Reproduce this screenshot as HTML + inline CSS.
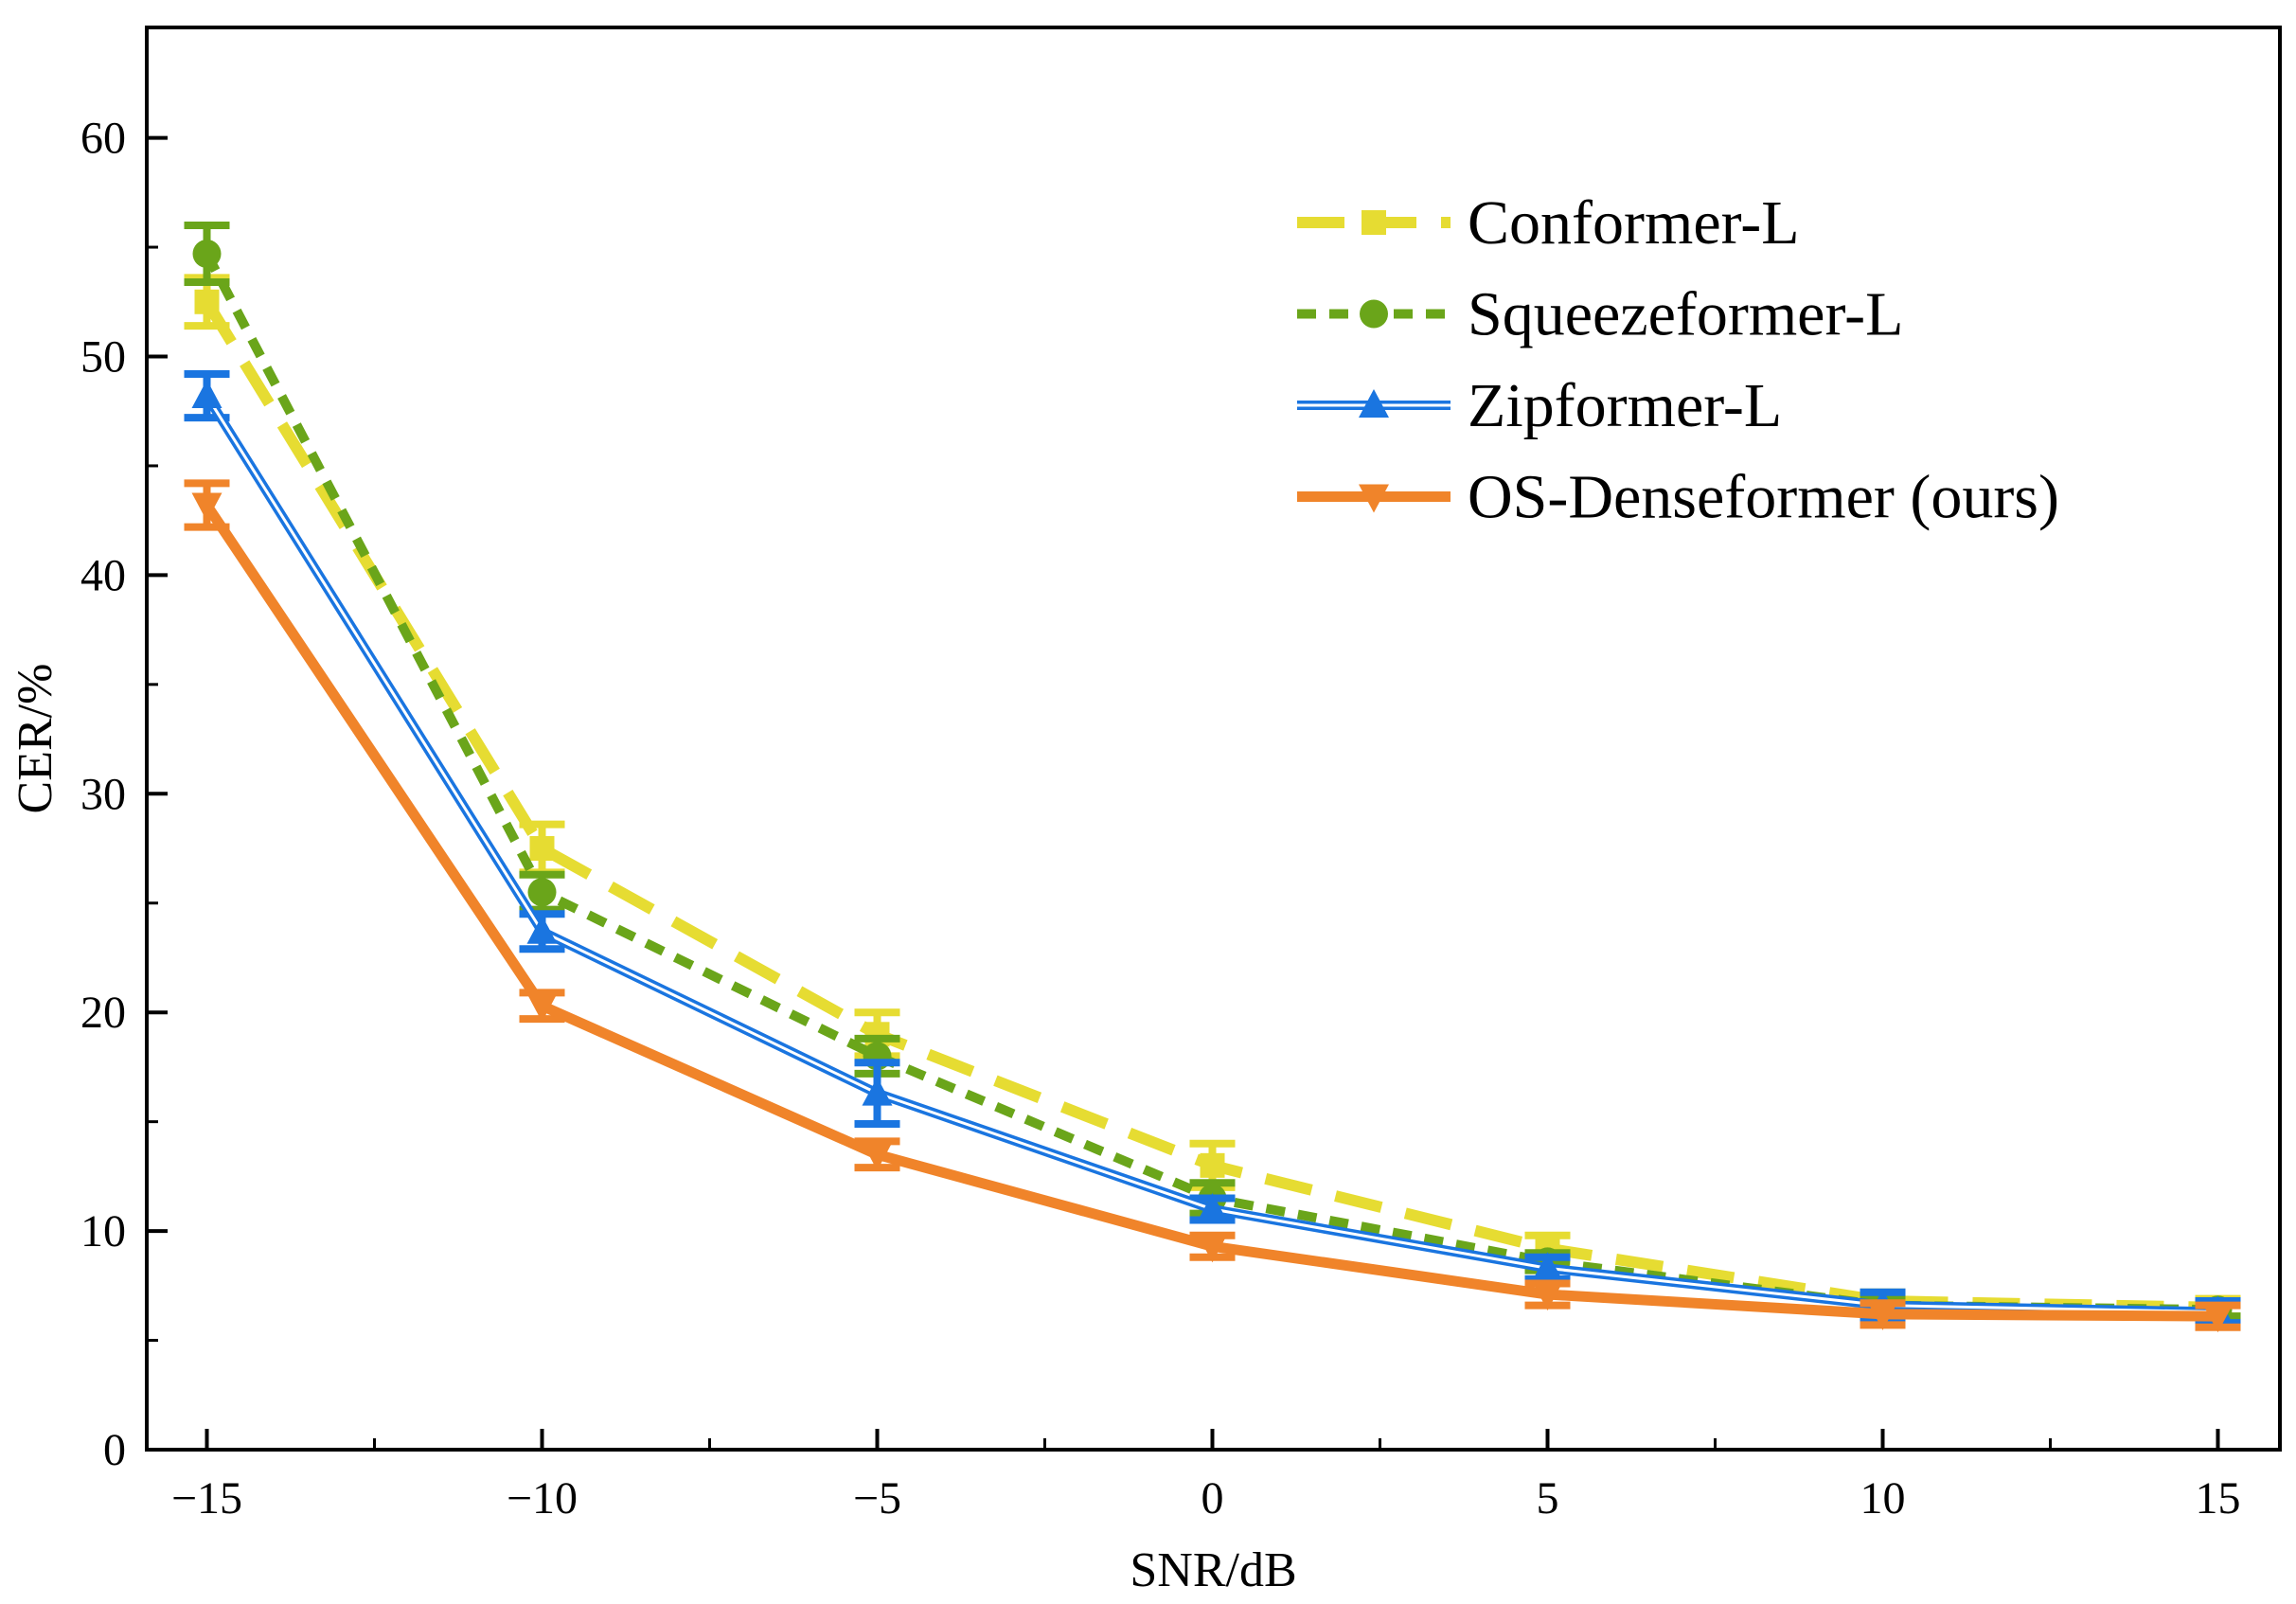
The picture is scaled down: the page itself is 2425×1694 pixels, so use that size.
<!DOCTYPE html>
<html><head><meta charset="utf-8"><style>
html,body{margin:0;padding:0;background:#fff}
svg text{font-family:"Liberation Serif",serif;fill:#000}
</style></head><body>
<svg id="c" width="2425" height="1689" xmlns="http://www.w3.org/2000/svg"></svg>
<script>
const snr=[-15,-10,-5,0,5,10,15];
const conformer=[52.5,27.5,19,13,9.2,6.8,6.5];
const conformerErr=[1.1,1.1,1.0,1.0,0.6,0.4,0.4];
const squeeze=[54.7,25.5,18,11.5,8.6,6.6,6.4];
const squeezeErr=[1.3,0.8,0.8,0.7,0.4,0.3,0.3];
const zip=[48.2,23.7,16.3,11,8.3,6.6,6.3];
const zipErr=[1.0,0.8,1.4,0.5,0.5,0.6,0.5];
const osd=[43.2,20.3,13.5,9.3,7.1,6.2,6.1];
const osdErr=[1.0,0.6,0.6,0.5,0.5,0.5,0.5];
const xTicks=[-15,-10,-5,0,5,10,15];
const yTicks=[0,10,20,30,40,50,60];
const names=["Conformer-L","Squeezeformer-L","Zipformer-L","OS-Denseformer (ours)"];

const svg=document.getElementById('c');const NS="http://www.w3.org/2000/svg";
const L=155,R=2408,T=29,B=1531;
const X=v=>218.5+(v+15)*70.8;
const Y=v=>B-v*23.09;
function el(t,a,p){const e=document.createElementNS(NS,t);for(const k in a)e.setAttribute(k,a[k]);(p||svg).appendChild(e);return e;}
function tx(s,x,y,size,anchor,name){const e=el('text',{x:x,y:y,'font-size':size,'text-anchor':anchor||'middle'});e.textContent=s;

return e;}

xTicks.forEach(v=>{el('line',{x1:X(v),x2:X(v),y1:B,y2:B-22,stroke:'#000','stroke-width':4});
tx(v<0?'\u2212'+(-v):String(v),X(v),B+67,48,'middle','x-tick-label');});
for(let v=-12.5;v<15;v+=5){el('line',{x1:X(v),x2:X(v),y1:B,y2:B-12,stroke:'#000','stroke-width':3});}
yTicks.forEach(v=>{el('line',{x1:L,x2:L+22,y1:Y(v),y2:Y(v),stroke:'#000','stroke-width':4});
tx(String(v),L-22,Y(v)+16,48,'end','y-tick-label');});
for(let v=5;v<65;v+=10){el('line',{x1:L,x2:L+12,y1:Y(v),y2:Y(v),stroke:'#000','stroke-width':3});}

function series(vals,errs,color,dash,width,marker,dbl,name){
 const g=el('g',{});
 
 
 vals.forEach((v,i)=>{const x=X(snr[i]);
  el('line',{x1:x,x2:x,y1:Y(v-errs[i]),y2:Y(v+errs[i]),stroke:color,'stroke-width':8},g);
  [v-errs[i],v+errs[i]].forEach(e=>el('line',{x1:x-24,x2:x+24,y1:Y(e),y2:Y(e),stroke:color,'stroke-width':8},g));});
 const pts=vals.map((v,i)=>X(snr[i])+','+Y(v)).join(' ');
 el('polyline',{points:pts,fill:'none',stroke:color,'stroke-width':width,'stroke-dasharray':dash,'stroke-linejoin':'round'},g);
 if(dbl)el('polyline',{points:pts,fill:'none',stroke:'#fff','stroke-width':3},g);
 vals.forEach((v,i)=>drawMarker(g,marker,X(snr[i]),Y(v),color));
}
function drawMarker(g,m,x,y,c){
 if(m==='sq')el('rect',{x:x-13,y:y-13,width:26,height:26,fill:c},g);
 else if(m==='ci')el('circle',{cx:x,cy:y,r:15,fill:c},g);
 else if(m==='up')el('polygon',{points:`${x},${y-17} ${x-16},${y+13} ${x+16},${y+13}`,fill:c},g);
 else el('polygon',{points:`${x},${y+17} ${x-16},${y-13} ${x+16},${y-13}`,fill:c},g);
}
series(conformer,conformerErr,'#e6dc32','50 26',12,'sq',false,'series-conformer-l');
series(squeeze,squeezeErr,'#6aa51a','20 14',10,'ci',false,'series-squeezeformer-l');
series(zip,zipErr,'#1a75e0','',10,'up',true,'series-zipformer-l');
series(osd,osdErr,'#f0842a','',11,'dn',false,'series-os-denseformer');

el('rect',{x:L,y:T,width:R-L,height:B-T,fill:'none',stroke:'#000','stroke-width':4});

const lg=el('g',{});


const cols=['#e6dc32','#6aa51a','#1a75e0','#f0842a'],dashes=['50 26','20 14','',''],mk=['sq','ci','up','dn'],lw=[12,10,10,11];
names.forEach((n,i)=>{const y=235+i*96.5;
 el('line',{x1:1370,x2:1532,y1:y,y2:y,stroke:cols[i],'stroke-width':lw[i],'stroke-dasharray':dashes[i]},lg);
 if(i===2)el('line',{x1:1370,x2:1532,y1:y,y2:y,stroke:'#fff','stroke-width':3},lg);
 drawMarker(lg,mk[i],1451,y,cols[i]);
 const t=tx(n,1550,y+22,66,'start','legend-entry');lg.appendChild(t);});

tx('SNR/dB',(L+R)/2,1675,52,'middle','x-axis-title');
const yt=tx('CER/%',0,0,52,'middle','y-axis-title');yt.setAttribute('transform','translate(54,780) rotate(-90)');
</script>
</body></html>
